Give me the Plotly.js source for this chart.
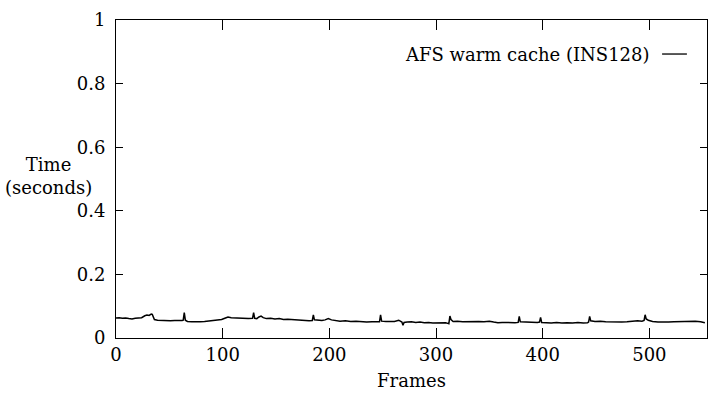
<!DOCTYPE html>
<html>
<head>
<meta charset="utf-8">
<script src="https://cdn.plot.ly/plotly-3.0.1.min.js"></script>
<style>html,body{margin:0;padding:0;background:#fff;}#chart{width:719px;height:399px;}</style>
</head>
<body>
<div id="chart"></div>
<script>
var seriesName = "AFS warm cache (INS128)";
var frames = [0,3,6,9,12,15,18,21,24,27,29,31,33,34,35,36,39,43,47,51,55,59,62,63,64,65,67,71,75,79,83,87,91,95,99,102,105,108,112,116,120,124,128,129,130,132,134,136,138,141,145,149,153,157,161,165,169,173,177,181,184,185,186,189,193,196,199,202,206,210,215,220,225,230,235,240,244,247,248,249,253,257,261,265,268,269,270,273,277,281,285,289,293,297,301,305,309,311,312,313,314,316,320,325,330,335,340,345,350,354,358,362,366,370,374,377,378,379,383,387,391,395,397,398,399,403,408,413,418,423,428,433,438,442,443,444,445,449,454,459,464,469,474,479,484,489,493,495,496,497,499,503,508,513,518,523,528,533,538,543,548,552];
var times = [0.063,0.064,0.062,0.063,0.061,0.060,0.062,0.063,0.064,0.070,0.072,0.071,0.075,0.074,0.066,0.058,0.056,0.055,0.056,0.054,0.055,0.054,0.055,0.056,0.080,0.056,0.052,0.051,0.050,0.051,0.052,0.053,0.055,0.057,0.058,0.062,0.066,0.064,0.063,0.062,0.063,0.061,0.062,0.080,0.062,0.061,0.066,0.069,0.064,0.061,0.062,0.060,0.061,0.058,0.059,0.058,0.056,0.054,0.053,0.054,0.055,0.073,0.057,0.056,0.055,0.057,0.061,0.057,0.054,0.053,0.054,0.052,0.053,0.051,0.050,0.051,0.050,0.051,0.073,0.053,0.052,0.051,0.052,0.056,0.050,0.040,0.049,0.050,0.051,0.049,0.050,0.048,0.049,0.047,0.048,0.047,0.048,0.046,0.045,0.069,0.058,0.052,0.053,0.051,0.052,0.053,0.052,0.051,0.053,0.050,0.048,0.049,0.048,0.049,0.048,0.049,0.068,0.051,0.050,0.051,0.050,0.049,0.050,0.065,0.049,0.048,0.047,0.049,0.047,0.048,0.047,0.049,0.047,0.048,0.050,0.068,0.054,0.052,0.053,0.051,0.050,0.051,0.050,0.051,0.053,0.054,0.053,0.055,0.073,0.060,0.056,0.052,0.050,0.049,0.050,0.051,0.052,0.053,0.052,0.053,0.051,0.048];
var xTickVals = [0,100,200,300,400,500];
var yTickVals = [0,0.2,0.4,0.6,0.8,1];
var xTitle = "Frames";
var yTitle = "Time<br>(seconds)";

var font = "DejaVu Serif, Liberation Serif, serif";
var trace = {x: frames, y: times, type: "scatter", mode: "lines", name: seriesName,
  line: {color: "#000", width: 1.5}, showlegend: false};
var layout = {
  width: 719, height: 399,
  margin: {l: 116, r: 12, t: 20, b: 61},
  paper_bgcolor: "#fff", plot_bgcolor: "#fff",
  font: {family: font, size: 18, color: "#000"},
  xaxis: {range: [0, 554], tickvals: xTickVals, ticks: "inside", ticklen: 10, tickcolor: "#000",
    showline: true, linecolor: "#000", linewidth: 1, mirror: "ticks", showgrid: false, zeroline: false,
    title: {text: xTitle, font: {family: font, size: 18}, standoff: 10}},
  yaxis: {range: [0, 1], tickvals: yTickVals, ticks: "inside", ticklen: 7, tickcolor: "#000",
    showline: true, linecolor: "#000", linewidth: 1, mirror: "ticks", showgrid: false, zeroline: false,
    ticklabelstandoff: 6},
  annotations: [
    {xref: "paper", yref: "paper", x: 0.907, y: 0.89, xanchor: "right", yanchor: "middle",
     text: seriesName, showarrow: false, font: {family: font, size: 18, color: "#000"}},
    {xref: "paper", yref: "paper", x: -0.115, y: 0.51, xanchor: "center", yanchor: "middle",
     text: yTitle, showarrow: false, font: {family: font, size: 18, color: "#000"}}
  ],
  shapes: [
    {type: "line", xref: "paper", yref: "paper", x0: 0.924, x1: 0.966, y0: 0.893, y1: 0.893,
     line: {color: "#000", width: 1.3}}
  ]
};
Plotly.newPlot("chart", [trace], layout, {displayModeBar: false, staticPlot: true});
</script>
</body>
</html>
